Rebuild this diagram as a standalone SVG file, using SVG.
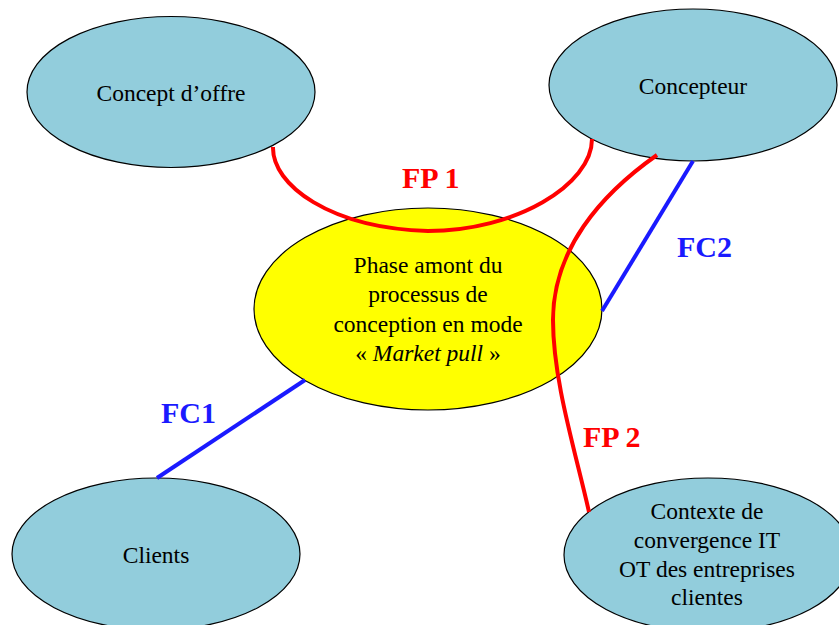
<svg xmlns="http://www.w3.org/2000/svg" width="839" height="625" viewBox="0 0 839 625">
<style>
.node{fill:#92CDDC;stroke:#000;stroke-width:1.2}
.main{fill:#FFFF00;stroke:#000;stroke-width:1.2}
.t{font-family:"Liberation Serif","Times New Roman",serif;font-size:23.5px;fill:#000;text-anchor:middle}
.fp{fill:none;stroke:#FF0000;stroke-width:4}
.fc{fill:none;stroke:#1A1AFF;stroke-width:4}
.lbl{font-family:"Liberation Serif","Times New Roman",serif;font-size:30px;font-weight:bold}
.red{fill:#FF0000}
.blue{fill:#1A1AFF}
</style>
<rect width="839" height="625" fill="#fff"/>
<g id="node-concept-offre">
<ellipse class="node" cx="171" cy="92" rx="144" ry="75.5"/>
<text class="t" x="171" y="101">Concept d’offre</text>
</g>
<g id="node-concepteur">
<ellipse class="node" cx="693" cy="85" rx="144" ry="76"/>
<text class="t" x="693" y="94">Concepteur</text>
</g>
<g id="node-phase">
<ellipse class="main" cx="428" cy="309" rx="174" ry="101"/>
<text class="t" x="428" y="273">Phase amont du</text>
<text class="t" x="428" y="302">processus de</text>
<text class="t" x="428" y="332">conception en mode</text>
<text class="t" x="428" y="361">« <tspan font-style="italic">Market pull</tspan> »</text>
</g>
<g id="node-clients">
<ellipse class="node" cx="156" cy="554" rx="144" ry="76"/>
<text class="t" x="156" y="563">Clients</text>
</g>
<g id="node-contexte">
<ellipse class="node" cx="708" cy="555" rx="144" ry="77"/>
<text class="t" x="707" y="519">Contexte de</text>
<text class="t" x="707" y="548">convergence IT</text>
<text class="t" x="707" y="577">OT des entreprises</text>
<text class="t" x="707" y="605">clientes</text>
</g>
<g id="connectors">
<path class="fp" d="M273,147 C272,185 330,228 428,231 C515,231 592,185 592,139"/>
<path class="fp" d="M657,155 C600,195 553,250 553,320 C553,380 575,450 589,512"/>
<path class="fc" d="M693,161 L602,311"/>
<path class="fc" d="M157,478 L305,380"/>
<text class="lbl red" x="402" y="188">FP 1</text>
<text class="lbl red" x="583" y="447">FP 2</text>
<text class="lbl blue" x="677" y="257">FC2</text>
<text class="lbl blue" x="161" y="423">FC1</text>
</g>
</svg>
